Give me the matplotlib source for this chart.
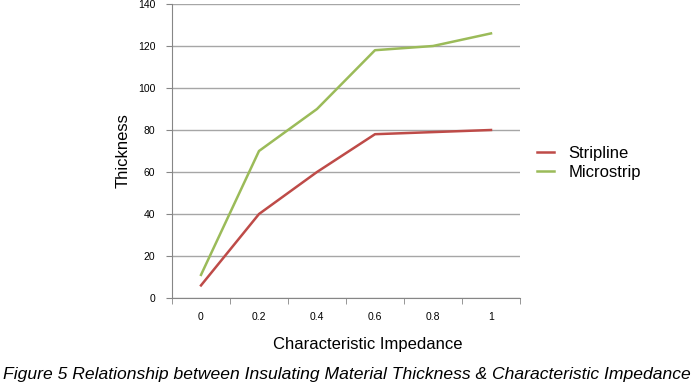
import matplotlib
matplotlib.use("Agg")
import matplotlib.pyplot as plt
import numpy as np

plt.rcParams['font.family'] = ['Liberation Sans', 'DejaVu Sans']

categories = ["0", "0.2", "0.4", "0.6", "0.8", "1"]
stripline = [6, 40, 60, 78, 79, 80]
microstrip = [11, 70, 90, 118, 120, 126]
yticks = [0, 20, 40, 60, 80, 100, 120, 140]

fig = plt.figure(figsize=(7, 3.88), dpi=100)
ax = fig.add_axes([172/700, 1-298/388, 348/700, 294/388])

x = np.arange(len(categories))
ax.plot(x, stripline, color='#BE4B48', lw=1.8, label='Stripline')
ax.plot(x, microstrip, color='#9BBB59', lw=1.8, label='Microstrip')

ax.set_xlim(-0.5, len(categories) - 0.5)
ax.set_ylim(0, 140)
ax.set_yticks(yticks)
ax.set_yticklabels([str(v) for v in yticks], fontsize=7.5)
ax.set_xticks(x)
ax.set_xticklabels(categories, fontsize=7.5)
ax.set_xticks(np.arange(-0.5, len(categories)), minor=True)
ax.tick_params(axis='x', which='major', length=0, pad=10)
ax.tick_params(axis='x', which='minor', length=4, color='#868686')
ax.tick_params(axis='y', length=4, color='#868686', pad=8)
ax.grid(axis='y', color='#A6A6A6', lw=1)
ax.set_axisbelow(True)
for s in ['top', 'right']:
    ax.spines[s].set_visible(False)
ax.spines['left'].set_color('#868686')
ax.spines['bottom'].set_color('#868686')

ax.set_ylabel('Thickness', fontsize=12, labelpad=5.5)
ax.set_xlabel('Characteristic Impedance', fontsize=12)
ax.xaxis.set_label_coords((368 - 172) / 348, -(344 - 298) / 294)
ax.xaxis.label.set_va('center')

fig.legend(loc='center left', bbox_to_anchor=(522/700, 1-163/388), frameon=False,
           fontsize=12, handlelength=1.0, labelspacing=0.25, handletextpad=0.9)

fig.text(3/700, 1-374/388, 'Figure 5 Relationship between Insulating Material Thickness & Characteristic Impedance',
         fontsize=12.6, style='italic', va='center', ha='left')

fig.savefig('out.png', dpi=100)
